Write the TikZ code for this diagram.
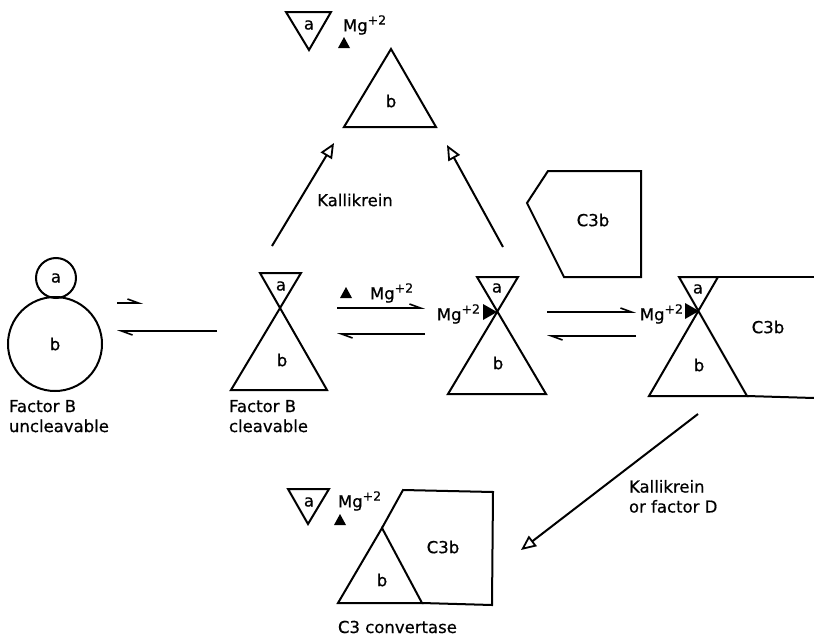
\documentclass[tikz,border=0pt]{standalone}
\usepackage{fontspec}
\setmainfont{DejaVu Sans}[BoldFont={DejaVu Sans},BoldFeatures={FakeBold=0.6}]
\usetikzlibrary{arrows.meta}
\newcommand{\mgion}{Mg\raisebox{0.75ex}{\fontsize{12.5}{12.5}\selectfont +2}}
\begin{document}
\begin{tikzpicture}[x=1pt,y=-1pt,line width=2pt,line join=miter,
  lbl/.style={inner sep=0pt,font=\fontsize{16.5}{20}\selectfont\bfseries},
  harp/.style={-{Straight Barb[left,length=11pt,width=8pt,line width=1.6pt]}},
  opentip/.style={-{Triangle[open,length=15pt,width=13pt,line width=1.8pt]}},
  mgdot/.style={fill=black,draw=none}]
\useasboundingbox (0,0) rectangle (814,637);
% ---------- Factor B uncleavable ----------
\node[circle,draw,minimum size=40pt,inner sep=0pt,lbl] (ca) at (56,278) {a};
\node[circle,draw,minimum size=94pt,inner sep=0pt,lbl] (cb) at (55,344) {b};
\node[lbl,anchor=north west,align=left] (fbu) at (8,399) {Factor B\\uncleavable};
% ---------- Factor B cleavable ----------
\coordinate (h1tl) at (260,273); \coordinate (h1tr) at (301,273);
\coordinate (h1bl) at (231,390); \coordinate (h1br) at (327,390);
\draw (h1tl) -- (h1tr) -- (h1bl) -- (h1br) -- cycle;
\node[lbl] (h1a) at (281,286) {a};
\node[lbl] (h1b) at (282,360) {b};
\node[lbl,anchor=north west,align=left] (fbc) at (228,399) {Factor B\\cleavable};
% ---------- Mg-bound factor B ----------
\coordinate (h2tl) at (477,277); \coordinate (h2tr) at (518,277);
\coordinate (h2bl) at (448,394); \coordinate (h2br) at (546,394);
\draw (h2tl) -- (h2tr) -- (h2bl) -- (h2br) -- cycle;
\node[lbl] (h2a) at (497,288) {a};
\node[lbl] (h2b) at (498,363) {b};
\fill[mgdot] (483,304) -- (497,312) -- (483,320) -- cycle;
\node[lbl,anchor=east] (mg2) at (481,314) {\mgion};
% ---------- Mg-bound factor B + C3b ----------
\coordinate (h3tl) at (679,277); \coordinate (h3tr) at (718,277);
\coordinate (h3bl) at (649,396); \coordinate (h3br) at (747,396);
\draw (h3tl) -- (h3tr) -- (h3bl) -- (h3br) -- cycle;
\draw (h3tr) -- (814,277);
\draw (h3br) -- (814,398);
\node[lbl] (h3a) at (698,289) {a};
\node[lbl] (h3b) at (699,365) {b};
\node[lbl] (h3c) at (768,327) {C3b};
\fill[mgdot] (685,303) -- (699,311) -- (685,319) -- cycle;
\node[lbl,anchor=east] (mg3) at (684,314) {\mgion};
% ---------- free C3b ----------
\draw (548,171) -- (641,171) -- (641,277) -- (564,277) -- (527,203) -- cycle;
\node[lbl] (c3b) at (593,220) {C3b};
% ---------- top products ----------
\draw (286,12) -- (331,12) -- (309,50) -- cycle;
\node[lbl] (ta) at (309,25) {a};
\node[lbl,anchor=west] (tmg) at (342,25) {\mgion};
\fill[mgdot] (338,48) -- (350,48) -- (344,37) -- cycle;
\draw (391,49) -- (436,127) -- (344,127) -- cycle;
\node[lbl] (tb) at (391,101) {b};
% ---------- bottom products: C3 convertase ----------
\draw (288,489) -- (329,489) -- (308,524) -- cycle;
\node[lbl] (ba) at (309,502) {a};
\node[lbl,anchor=west] (bmg) at (337,501) {\mgion};
\fill[mgdot] (334,525) -- (346,525) -- (340,514) -- cycle;
\draw (338,603) -- (382,528) -- (422,603) -- cycle;
\draw (382,528) -- (403,490) -- (493,492) -- (492,605) -- (422,603);
\node[lbl] (bb) at (382,580) {b};
\node[lbl] (bc) at (443,547) {C3b};
\node[lbl,anchor=west] (conv) at (337,627) {C3 convertase};
% ---------- reaction arrows ----------
\coordinate (r1a) at (117,303); \coordinate (r1b) at (143,303);
\coordinate (r1c) at (217,331); \coordinate (r1d) at (117,331);
\draw[harp] (r1a) -- (r1b);
\draw[harp] (r1c) -- (r1d);
\coordinate (r2a) at (337,308); \coordinate (r2b) at (425,308);
\coordinate (r2c) at (425,334); \coordinate (r2d) at (337,334);
\draw[harp] (r2a) -- (r2b);
\draw[harp] (r2c) -- (r2d);
\fill[mgdot] (340,298) -- (352,298) -- (346,287) -- cycle;
\node[lbl,anchor=west] (r2mg) at (369,293) {\mgion};
\coordinate (r3a) at (547,312); \coordinate (r3b) at (636,312);
\coordinate (r3c) at (636,336); \coordinate (r3d) at (547,336);
\draw[harp] (r3a) -- (r3b);
\draw[harp] (r3c) -- (r3d);
% ---------- cleavage arrows ----------
\coordinate (u1a) at (272,246); \coordinate (u1b) at (334,143);
\coordinate (u2a) at (503,247); \coordinate (u2b) at (447,145);
\draw[opentip] (u1a) -- (u1b);
\draw[opentip] (u2a) -- (u2b);
\node[lbl] (kal) at (355,200) {Kallikrein};
\coordinate (d1a) at (698,414); \coordinate (d1b) at (521,550);
\draw[opentip] (d1a) -- (d1b);
\node[lbl,anchor=north west,align=left] (kald) at (628,479) {Kallikrein\\or factor D};
\end{tikzpicture}
\end{document}
